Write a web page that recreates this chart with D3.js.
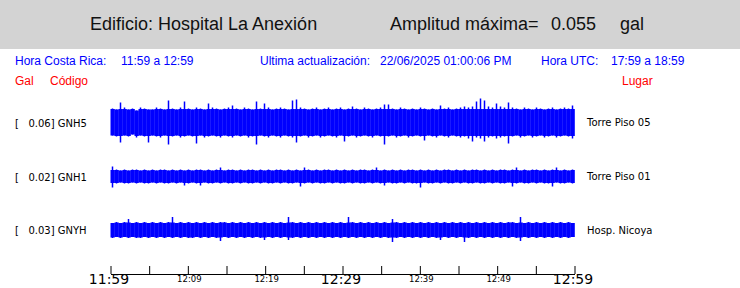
<!DOCTYPE html>
<html>
<head>
<meta charset="utf-8">
<script src="https://cdn.jsdelivr.net/npm/d3@7"></script>
<style>
  body { margin: 0; background: #fff; }
  text { white-space: pre; }
</style>
</head>
<body>
<div id="wrapper"></div>
<script>
// ---- data ----
const building = "Edificio: Hospital La Anexión";
const maxAmplitude = "0.055";
const crTime = "11:59 a 12:59";
const utcTime = "17:59 a 18:59";
const lastUpdate = "22/06/2025 01:00:06 PM";

const stations = ["GNH5", "GNH1", "GNYH"];
const gals = ["0.06", "0.02", "0.03"];
const places = ["Torre Piso 05", "Torre Piso 01", "Hosp. Nicoya"];

const tStart = new Date(2025, 5, 22, 11, 59);
const tEnd = new Date(2025, 5, 22, 12, 59);
const tickMinutes = [0, 5, 10, 15, 20, 25, 30, 35, 40, 45, 50, 55, 60];
const labelMinutes = [0, 10, 20, 30, 40, 50, 60];
const bigLabelMinutes = [0, 30, 60];

// envelope per ~31 s bin (relative amplitude, upper / lower)
const gnh5Up = [
  14,13,20,15,13,14,12,15,14,13, 13,15,14,13,22,14,13,15,21,14,
  13,15,14,13,19,15,14,13,14,15, 17,14,13,15,14,13,21,14,19,15,
  13,14,15,14,13,22,23,15,14,13, 14,15,13,14,15,13,14,15,13,14,
  16,14,13,15,14,13,14,15,18,18, 14,13,15,14,13,14,13,15,14,13,
  14,13,17,14,15,13,14,15,16,15, 16,21,24,22,16,15,19,16,15,20,
  15,14,13,15,14,13,15,14,13,14, 15,13,14,15,14,17
];
const gnh5Dn = [
  -13,-14,-20,-13,-14,-12,-15,-13,-14,-20, -13,-14,-15,-13,-22,-14,-13,-15,-14,-13,
  -14,-21,-13,-15,-14,-13,-14,-15,-13,-14, -15,-13,-14,-13,-15,-14,-22,-13,-14,-15,
  -13,-14,-15,-13,-14,-15,-20,-14,-13,-15, -14,-13,-15,-14,-13,-14,-15,-13,-19,-14,
  -13,-15,-14,-13,-14,-15,-13,-14,-22,-14, -13,-15,-14,-13,-15,-14,-13,-14,-18,-13,
  -14,-15,-13,-14,-15,-13,-14,-15,-14,-16, -19,-15,-16,-19,-15,-14,-16,-15,-14,-21,
  -14,-13,-15,-14,-13,-15,-14,-13,-15,-14, -13,-15,-14,-13,-14,-16
];
const gnh1Up = [
  10,7,6,7,6,7,7,6,7,6, 7,6,7,7,6,7,6,7,6,7,
  6,7,7,6,7,6,7,9,6,7, 7,6,7,6,7,7,6,7,6,7,
  6,7,7,6,7,6,7,6,9,7, 6,7,6,7,7,6,7,6,7,6,
  7,6,7,7,6,7,9,6,7,6, 7,6,7,6,7,7,6,7,6,7,
  6,7,6,7,7,6,7,6,7,6, 7,7,6,7,6,7,6,7,7,6,
  7,9,6,7,6,7,7,6,7,6, 7,9,6,7,6,7
];
const gnh1Dn = [
  -11,-7,-6,-7,-7,-6,-7,-6,-7,-7, -6,-7,-6,-7,-7,-6,-7,-6,-9,-7,
  -6,-7,-9,-6,-7,-7,-6,-7,-6,-7, -7,-6,-7,-6,-7,-7,-6,-7,-6,-7,
  -7,-6,-7,-6,-7,-7,-6,-10,-7,-6, -7,-6,-7,-7,-6,-7,-6,-7,-7,-6,
  -7,-6,-7,-7,-6,-7,-6,-7,-9,-6, -7,-7,-6,-7,-6,-7,-7,-11,-6,-7,
  -7,-6,-7,-6,-7,-7,-6,-7,-6,-7, -7,-6,-7,-7,-6,-7,-6,-7,-7,-6,
  -10,-7,-6,-7,-7,-6,-7,-6,-7,-7, -10,-6,-7,-7,-6,-7
];
const gnyhUp = [
  7,8,7,8,11,7,8,7,8,7, 8,7,8,7,8,13,7,8,7,8,
  7,8,7,8,7,8,7,8,8,7, 8,7,8,7,8,7,8,7,8,7,
  8,7,8,7,13,8,7,8,7,8, 7,8,7,8,7,8,7,8,7,13,
  8,7,8,7,8,7,8,7,8,7, 11,8,7,8,7,8,7,8,7,8,
  7,8,7,8,7,8,7,8,7,8, 7,8,7,8,7,8,7,8,7,8,
  8,7,13,7,8,7,8,7,8,7, 8,7,8,7,8,7
];
const gnyhDn = [
  -8,-7,-8,-7,-8,-7,-8,-8,-7,-8, -7,-8,-7,-8,-7,-8,-7,-8,-7,-8,
  -8,-7,-8,-7,-8,-7,-8,-11,-7,-8, -7,-8,-7,-8,-7,-8,-7,-8,-10,-7,
  -8,-7,-8,-7,-10,-8,-7,-8,-7,-8, -7,-8,-7,-8,-7,-8,-7,-8,-7,-8,
  -7,-8,-7,-8,-7,-8,-7,-8,-7,-8, -12,-8,-7,-8,-7,-8,-7,-8,-7,-8,
  -7,-8,-10,-7,-8,-7,-8,-7,-12,-8, -7,-8,-7,-8,-7,-8,-7,-8,-7,-8,
  -7,-8,-11,-7,-8,-7,-8,-7,-8,-7, -8,-7,-8,-7,-8,-7
];
const traceUp = [gnh5Up, gnh1Up, gnyhUp];
const traceDn = [gnh5Dn, gnh1Dn, gnyhDn];

// ---- dimensions ----
const dimensions = {
  width: 740,
  height: 288,
  plotLeft: 110.5,
  plotRight: 574.5,
  axisY: 274,
  traceCenters: [122.5, 176.5, 230],
};

const svg = d3.select("#wrapper")
  .append("svg")
  .attr("width", dimensions.width)
  .attr("height", dimensions.height)
  .style("display", "block");

// header band
svg.append("rect")
  .attr("x", 0).attr("y", 0)
  .attr("width", dimensions.width).attr("height", 49)
  .attr("fill", "#d3d3d3");

const headFont = "'Liberation Sans', Arial, sans-serif";
const head = [
  [90, building], [390, "Amplitud máxima="], [551, maxAmplitude], [620, "gal"]
];
svg.selectAll(".head")
  .data(head)
  .join("text")
  .attr("class", "head")
  .attr("x", d => d[0]).attr("y", 30)
  .attr("font-family", headFont).attr("font-size", 18)
  .attr("fill", "#111")
  .text(d => d[1]);

const info = [
  [15, "Hora Costa Rica:"], [121, crTime],
  [260, "Ultima actualización:"], [380, lastUpdate],
  [541, "Hora UTC:"], [611, utcTime]
];
svg.selectAll(".info")
  .data(info)
  .join("text")
  .attr("class", "info")
  .attr("x", d => d[0]).attr("y", 65)
  .attr("font-family", headFont).attr("font-size", 12)
  .attr("fill", "#0000ff")
  .text(d => d[1]);

const cols = [[15, "Gal"], [50, "Código"], [622, "Lugar"]];
svg.selectAll(".cols")
  .data(cols)
  .join("text")
  .attr("class", "cols")
  .attr("x", d => d[0]).attr("y", 84.5)
  .attr("font-family", headFont).attr("font-size", 12)
  .attr("fill", "#ff0000")
  .text(d => d[1]);

// ---- scales ----
const xScale = d3.scaleTime()
  .domain([tStart, tEnd])
  .range([dimensions.plotLeft, dimensions.plotRight]);

const labelFont = "'DejaVu Sans', sans-serif";

stations.forEach((st, k) => {
  const c = dimensions.traceCenters[k];
  const yScale = d3.scaleLinear().domain([-25, 25]).range([c + 25, c - 25]);
  const up = traceUp[k], dn = traceDn[k];
  const n = up.length;
  const binMs = (tEnd - tStart) / n;
  const bins = d3.range(n).map(i => ({
    t0: new Date(+tStart + i * binMs),
    t1: new Date(+tStart + (i + 1) * binMs),
    hi: up[i], lo: dn[i]
  }));
  // solid band at the usual level, each bin's peak drawn as a thin spike
  const coreHi = d3.median(up) - 0.5;
  const coreLo = d3.median(dn) + 0.5;

  const g = svg.append("g");
  g.selectAll("rect")
    .data(bins)
    .join("rect")
    .attr("x", d => xScale(d.t0))
    .attr("width", d => xScale(d.t1) - xScale(d.t0) + 0.3)
    .attr("y", d => yScale(Math.min(d.hi, coreHi)))
    .attr("height", d => yScale(Math.max(d.lo, coreLo)) - yScale(Math.min(d.hi, coreHi)))
    .attr("fill", "#0000ff");

  g.selectAll("line")
    .data(bins)
    .join("line")
    .attr("x1", d => (xScale(d.t0) + xScale(d.t1)) / 2)
    .attr("x2", d => (xScale(d.t0) + xScale(d.t1)) / 2)
    .attr("y1", d => yScale(d.hi))
    .attr("y2", d => yScale(d.lo))
    .attr("stroke", "#0000ff")
    .attr("stroke-width", 1.5);

  svg.append("text")
    .attr("x", 15).attr("y", c + 4)
    .attr("font-family", labelFont).attr("font-size", 10)
    .attr("fill", "#000")
    .text(`[   ${gals[k]}] ${st}`);

  svg.append("text")
    .attr("x", 587).attr("y", c + 3.5)
    .attr("font-family", labelFont).attr("font-size", 10)
    .attr("fill", "#000")
    .text(places[k]);
});

// ---- time axis ----
const tickDates = tickMinutes.map(m => new Date(+tStart + m * 60000));
const fmt = d3.timeFormat("%H:%M");
const minOf = d => Math.round((d - tStart) / 60000);

const xAxisGenerator = d3.axisBottom(xScale)
  .tickValues(tickDates)
  .tickSizeInner(-8)
  .tickSizeOuter(0)
  .tickPadding(0)
  .tickFormat(d => labelMinutes.includes(minOf(d)) ? fmt(d) : "");

const xAxis = svg.append("g")
  .attr("transform", `translate(0,${dimensions.axisY})`)
  .call(xAxisGenerator);

xAxis.select(".domain").attr("stroke", "#000");
xAxis.selectAll(".tick line").attr("stroke", "#000");
xAxis.selectAll(".tick text")
  .attr("font-family", labelFont)
  .attr("fill", "#000")
  .attr("dy", null)
  .attr("font-size", d => bigLabelMinutes.includes(minOf(d)) ? 14 : 8.5)
  .attr("y", d => bigLabelMinutes.includes(minOf(d)) ? 9.5 : 8)
  .attr("dx", d => bigLabelMinutes.includes(minOf(d)) ? -2 : 1);
</script>
</body>
</html>
